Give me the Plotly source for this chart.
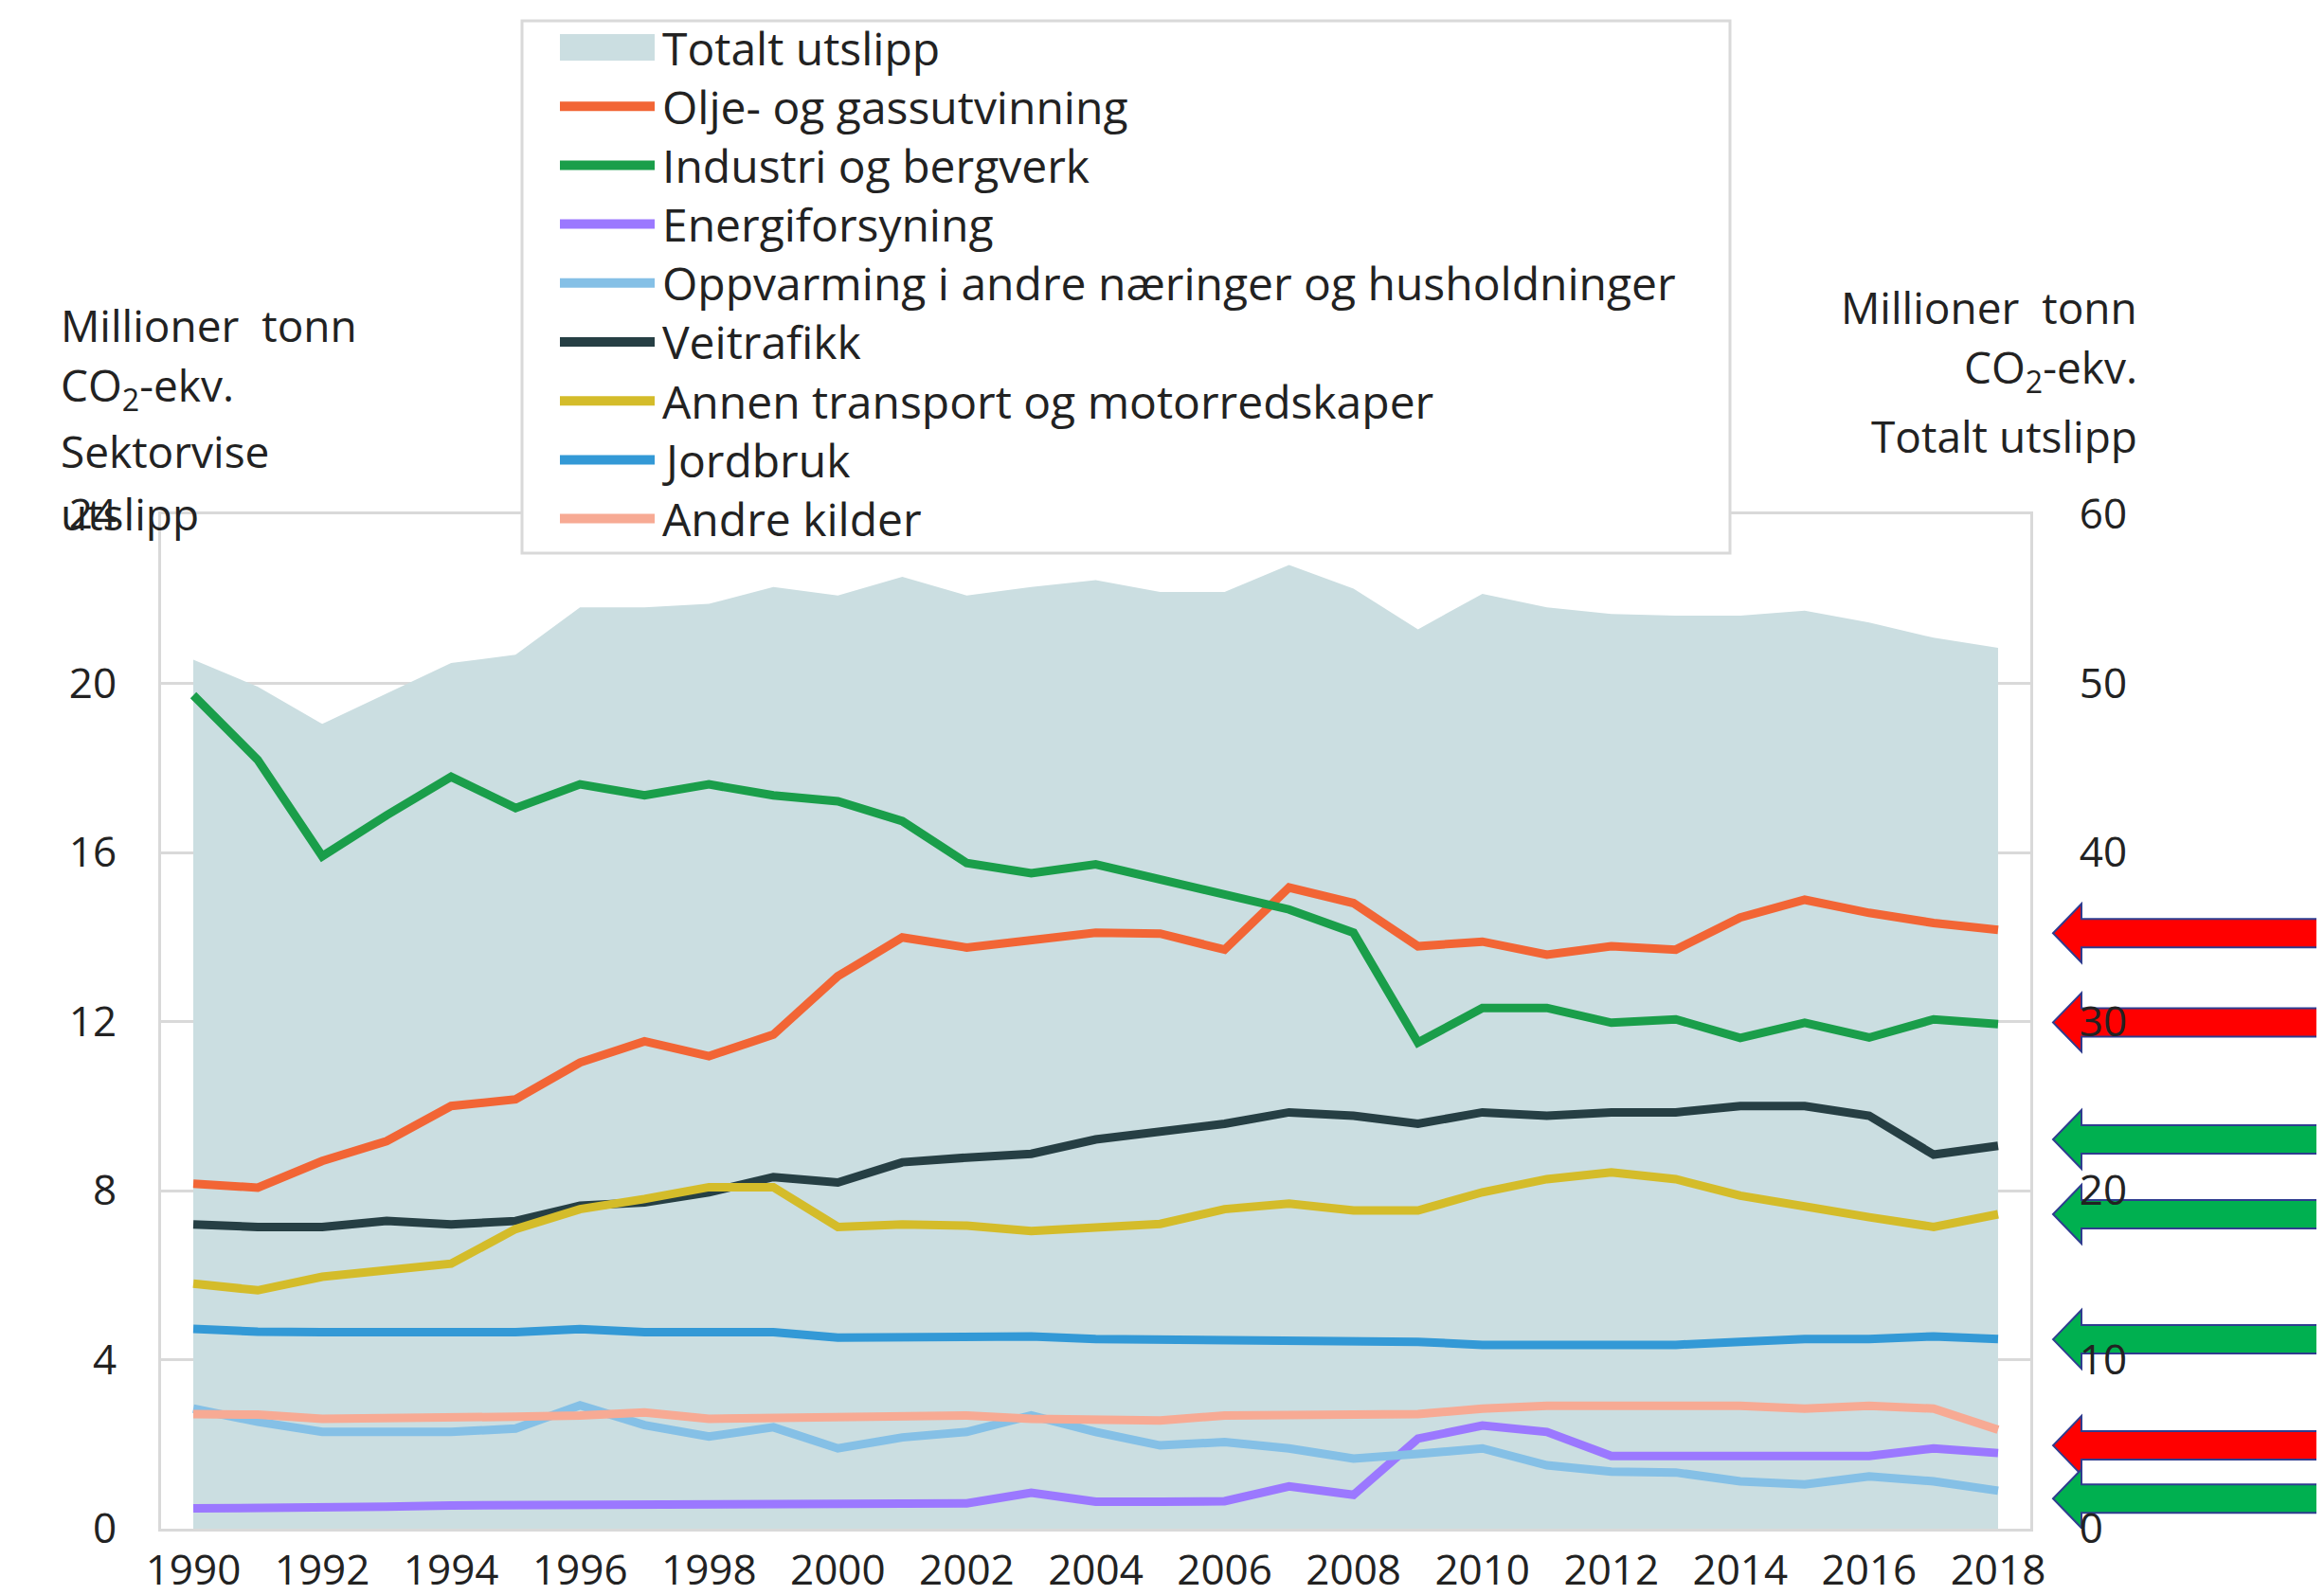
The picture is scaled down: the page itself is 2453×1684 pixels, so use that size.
import plotly.graph_objects as go

# ---------------- data ----------------
years = list(range(1990, 2019))

total = [51.4, 49.8, 47.6, 49.4, 51.2, 51.7, 54.5, 54.5, 54.7, 55.7,
         55.2, 56.3, 55.2, 55.7, 56.1, 55.4, 55.4, 57.0, 55.6, 53.2,
         55.3, 54.5, 54.1, 54.0, 54.0, 54.3, 53.6, 52.7, 52.1]

olje = [8.16, 8.07, 8.70, 9.17, 10.0, 10.16, 11.03, 11.53, 11.18, 11.69,
        13.07, 13.99, 13.75, 13.91, 14.10, 14.08, 13.70, 15.17, 14.80, 13.78,
        13.89, 13.58, 13.78, 13.70, 14.46, 14.88, 14.57, 14.33, 14.17]

industri = [19.72, 18.19, 15.91, 16.88, 17.79, 17.05, 17.61, 17.35, 17.61, 17.35,
            17.21, 16.74, 15.75, 15.51, 15.72, 15.35, 14.99, 14.65, 14.10, 11.50,
            12.32, 12.32, 11.97, 12.05, 11.61, 11.97, 11.62, 12.05, 11.94]

energi = [0.48, 0.48, 0.50, 0.52, 0.55, 0.55, 0.60, 0.55, 0.55, 0.55,
          0.55, 0.55, 0.60, 0.85, 0.64, 0.64, 0.65, 1.00, 0.80, 2.13,
          2.44, 2.29, 1.72, 1.72, 1.72, 1.72, 1.72, 1.90, 1.79]

oppvarming = [2.84, 2.53, 2.29, 2.29, 2.29, 2.37, 2.92, 2.45, 2.18, 2.40,
              1.90, 2.16, 2.29, 2.68, 2.29, 1.97, 2.05, 1.90, 1.66, 1.77,
              1.90, 1.50, 1.35, 1.33, 1.12, 1.05, 1.24, 1.12, 0.90]

veitrafikk = [7.20, 7.14, 7.14, 7.28, 7.20, 7.28, 7.64, 7.72, 7.96, 8.32,
              8.19, 8.67, 8.78, 8.87, 9.21, 9.39, 9.58, 9.85, 9.77, 9.58,
              9.85, 9.77, 9.85, 9.85, 10.0, 10.0, 9.77, 8.85, 9.06]

annen = [5.80, 5.64, 5.96, 6.11, 6.27, 7.09, 7.56, 7.80, 8.08, 8.08,
         7.14, 7.20, 7.17, 7.04, 7.13, 7.21, 7.56, 7.69, 7.53, 7.53,
         7.96, 8.27, 8.43, 8.27, 7.88, 7.60, 7.37, 7.14, 7.44]

jordbruk = [4.73, 4.66, 4.65, 4.65, 4.65, 4.65, 4.72, 4.65, 4.65, 4.65,
            4.52, 4.52, 4.52, 4.55, 4.49, 4.48, 4.42, 4.42, 4.42, 4.42,
            4.35, 4.35, 4.35, 4.35, 4.42, 4.49, 4.49, 4.55, 4.49]

andre = [2.71, 2.70, 2.60, 2.60, 2.64, 2.65, 2.68, 2.75, 2.60, 2.62,
         2.68, 2.68, 2.68, 2.60, 2.58, 2.56, 2.68, 2.68, 2.68, 2.71,
         2.84, 2.91, 2.91, 2.91, 2.91, 2.84, 2.91, 2.84, 2.34]

total_name = "Totalt utslipp"
sector_names = ["Olje- og gassutvinning", "Industri og bergverk", "Energiforsyning",
                "Oppvarming i andre næringer og husholdninger", "Veitrafikk",
                "Annen transport og motorredskaper", "Jordbruk", "Andre kilder"]
sector_values = [olje, industri, energi, oppvarming, veitrafikk, annen, jordbruk, andre]

left_ticks = [0, 4, 8, 12, 16, 20, 24]
right_ticks = [0, 10, 20, 30, 40, 50, 60]
x_ticks = years[::2]

left_title = ["Millioner\u00a0 tonn", "CO<sub>2</sub>-ekv.", "Sektorvise", "utslipp"]
right_title = ["Millioner\u00a0 tonn", "CO<sub>2</sub>-ekv.", "Totalt utslipp"]

# decorative arrows at the right (level on left axis, colour)
arrow_levels = [14.09, 11.98, 9.21, 7.44, 4.48, 1.97, 0.71]
arrow_colors = ["#FF0000", "#FF0000", "#00B050", "#00B050", "#00B050", "#FF0000", "#00B050"]

# ---------------- styles ----------------
area_color = "#CBDEE1"
sector_colors = ["#F26535", "#1A9E4A", "#9B78FF", "#85C0E6", "#263F44",
                 "#D4BC2A", "#3399D6", "#F7AA94"]
grid_color = "#D9D9D9"
text_color = "#222222"
FONT = "Open Sans, Noto Sans, sans-serif"
FS_TICK = 44
FS_TEXT = 48

OFF = 8                      # page offset of the plot div (body margin)
W, H = 2453 - OFF, 1684 - OFF
PL, PR, PT, PB = 170, 2143, 543, 1614   # plot area in page pixels
L, R, T, B = PL - OFF, W - (PR - OFF), PT - OFF, H - (PB - OFF)
PW = PR - PL
PH = PB - PT


def px_x(px):
    return (px - PL) / PW


def px_y(py):
    return (PB - py) / PH


fig = go.Figure()

fig.add_trace(go.Scatter(
    x=years, y=total, name=total_name, mode="lines", fill="tozeroy",
    fillcolor=area_color, line=dict(width=0, color=area_color),
    yaxis="y", showlegend=False))

for name, vals, col in zip(sector_names, sector_values, sector_colors):
    fig.add_trace(go.Scatter(
        x=years, y=vals, name=name, mode="lines",
        line=dict(color=col, width=9), yaxis="y2", showlegend=False))

shapes = []
annotations = []
txtfont = dict(size=FS_TEXT, color=text_color, family=FONT)

# arrows
tip_x, base_x, end_x = px_x(2167), px_x(2197), px_x(2452)
unit = PH / 24.0
bh = 15 / unit
hh = 31 / unit
for lvl, col in zip(arrow_levels, arrow_colors):
    path = (f"M {tip_x},{lvl} L {base_x},{lvl + hh} L {base_x},{lvl + bh} "
            f"L {end_x},{lvl + bh} L {end_x},{lvl - bh} L {base_x},{lvl - bh} "
            f"L {base_x},{lvl - hh} Z")
    shapes.append(dict(type="path", path=path, xref="paper", yref="y2",
                       fillcolor=col, line=dict(color="#2F3C8F", width=2),
                       layer="below"))

# legend box
shapes.append(dict(type="rect", xref="paper", yref="paper",
                   x0=px_x(551), x1=px_x(1826), y0=px_y(584), y1=px_y(22),
                   fillcolor="white", line=dict(color=grid_color, width=3),
                   layer="above"))
row0, drow = 50, 62.2
sym_x0, sym_x1, txt_x = px_x(591), px_x(691), px_x(697)
shapes.append(dict(type="rect", xref="paper", yref="paper",
                   x0=sym_x0, x1=sym_x1, y0=px_y(row0 + 14), y1=px_y(row0 - 14),
                   fillcolor=area_color, line=dict(width=0), layer="above"))
annotations.append(dict(text=total_name, xref="paper", yref="paper", x=txt_x,
                        y=px_y(row0), xanchor="left", yanchor="middle",
                        showarrow=False, font=txtfont))
for i, (name, col) in enumerate(zip(sector_names, sector_colors)):
    yy = px_y(row0 + drow * (i + 1))
    shapes.append(dict(type="line", xref="paper", yref="paper",
                       x0=sym_x0, x1=sym_x1, y0=yy, y1=yy,
                       line=dict(color=col, width=10), layer="above"))
    annotations.append(dict(text=name, xref="paper", yref="paper", x=txt_x,
                            y=yy, xanchor="left", yanchor="middle",
                            showarrow=False, font=txtfont))

# axis titles
titlefont = dict(size=46, color=text_color, family=FONT)
for t, py in zip(left_title, [343, 409, 476, 542]):
    annotations.append(dict(text=t, xref="paper", yref="paper", x=px_x(62),
                            y=px_y(py), xanchor="left", yanchor="middle",
                            showarrow=False, font=titlefont))
for t, py in zip(right_title, [324, 390, 460]):
    annotations.append(dict(text=t, xref="paper", yref="paper", x=px_x(2258),
                            y=px_y(py), xanchor="right", yanchor="middle",
                            showarrow=False, font=titlefont))

tickfont = dict(size=FS_TICK, color=text_color, family=FONT)

fig.update_layout(
    width=W, height=H,
    margin=dict(l=L, r=R, t=T, b=B, autoexpand=False),
    paper_bgcolor="white", plot_bgcolor="white",
    font=dict(family=FONT, size=FS_TICK, color=text_color),
    showlegend=False,
    xaxis=dict(range=[1989.5, 2018.5], tickmode="array", tickvals=x_ticks,
               ticktext=[str(v) for v in x_ticks], showgrid=False,
               showline=True, linecolor=grid_color, linewidth=3, mirror=True,
               ticks="", tickfont=tickfont, ticklabelstandoff=3,
               zeroline=False, automargin=False),
    yaxis=dict(range=[0, 60], tickmode="array", tickvals=right_ticks,
               side="right", showgrid=False, showline=True,
               linecolor=grid_color, linewidth=3, ticks="", tickfont=tickfont,
               ticklabelstandoff=40, zeroline=False, automargin=False),
    yaxis2=dict(range=[0, 24], tickmode="array", tickvals=left_ticks,
                overlaying="y", side="left", showgrid=True,
                gridcolor=grid_color, gridwidth=3, showline=True,
                linecolor=grid_color, linewidth=3, ticks="", tickfont=tickfont,
                ticklabelstandoff=35, zeroline=False, automargin=False),
    shapes=shapes,
    annotations=annotations,
)

fig.write_html("out.html")
